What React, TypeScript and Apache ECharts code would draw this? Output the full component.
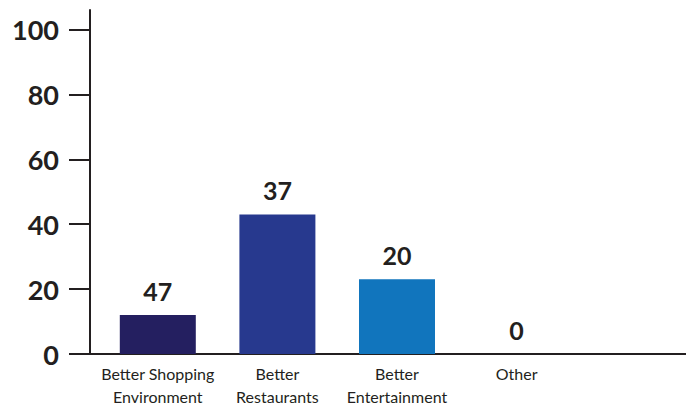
import React, { useEffect, useRef } from "react";
import * as echarts from "echarts";

const categories = ["Better Shopping\nEnvironment", "Better\nRestaurants", "Better\nEntertainment", "Other", ""];
const barValues = [12, 43, 23, 0];
const valueLabels = ["47", "37", "20", "0"];
const barColors = ["#241f60", "#27398e", "#1175bd", "#1175bd"];
const yTicks = [0, 20, 40, 60, 80, 100];

const INK = "#231f20";

export default function App() {
  const ref = useRef<HTMLDivElement>(null);
  useEffect(() => {
    document.body.style.margin = "0";
    const chart = echarts.init(ref.current!, null, { renderer: "svg" });
    const yCommon = { type: "value" as const, min: 0, max: 106, interval: 20 };
    chart.setOption({
      animation: false,
      grid: [
        { left: 98, right: 0, top: 10, bottom: 57 },
        { left: 90, right: 10, top: 10, bottom: 57 },
      ],
      xAxis: [
        {
          type: "category",
          gridIndex: 0,
          data: categories,
          axisLine: { show: false },
          axisTick: { show: false },
          axisLabel: {
            color: INK,
            fontFamily: "Lato",
            fontSize: 16,
            lineHeight: 23,
            margin: 8,
            interval: 0,
          },
        },
        {
          type: "value",
          gridIndex: 1,
          min: 0,
          max: 1,
          axisLine: { show: true, onZero: false, lineStyle: { color: INK, width: 2 } },
          axisTick: { show: false },
          axisLabel: { show: false },
          splitLine: { show: false },
        },
      ],
      yAxis: [
        { ...yCommon, gridIndex: 0, show: false },
        {
          ...yCommon,
          gridIndex: 1,
          axisLine: { show: true, lineStyle: { color: INK, width: 2 } },
          axisTick: { show: true, length: 21, lineStyle: { color: INK, width: 2 }, customValues: yTicks },
          axisLabel: {
            color: INK,
            fontFamily: "Lato",
            fontWeight: "bold",
            fontSize: 27,
            margin: 31,
            customValues: yTicks,
          },
          splitLine: { show: false },
        },
      ],
      series: [
        {
          type: "bar",
          xAxisIndex: 0,
          yAxisIndex: 0,
          barWidth: 76,
          data: barValues.map((v, i) => ({
            value: v,
            itemStyle: { color: barColors[i] },
            label: { formatter: valueLabels[i] },
          })),
          label: {
            show: true,
            position: "top",
            distance: 12,
            color: INK,
            fontFamily: "Lato",
            fontWeight: "bold",
            fontSize: 25,
          },
        },
      ],
    });
    return () => chart.dispose();
  }, []);
  return (
    <div style={{ width: 686, height: 411, overflow: "hidden" }}>
      <div ref={ref} style={{ width: 696, height: 411 }} />
    </div>
  );
}
